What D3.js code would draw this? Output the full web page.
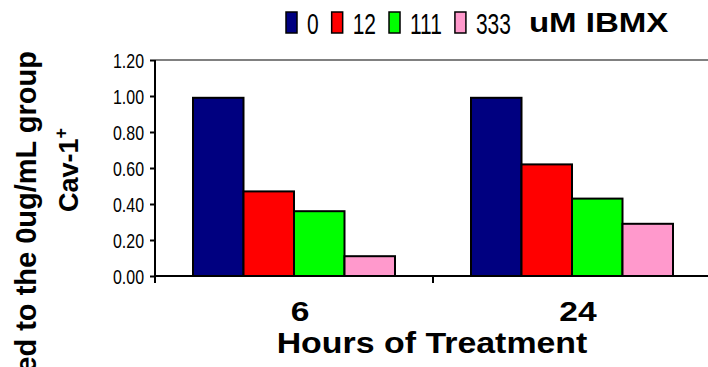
<!DOCTYPE html>
<html>
<head>
<meta charset="utf-8">
<script src="https://cdn.jsdelivr.net/npm/d3@7"></script>
<style>
  html, body { margin: 0; padding: 0; background: #fff; }
  svg { display: block; font-family: "Liberation Sans", Arial, sans-serif; }
</style>
</head>
<body>
<svg id="chart" width="708" height="367"></svg>
<script>
// Cav-1+ cells relative to the untreated (0 uM) group, by IBMX dose and time
const hours = ["6", "24"];
const doses = ["0", "12", "111", "333"];
const doseColors = ["#000080", "#ff0000", "#00ff00", "#ff99cc"];
const at6h = [0.99, 0.47, 0.36, 0.11];
const at24h = [0.99, 0.62, 0.43, 0.29];
const yTicks = [0, 0.2, 0.4, 0.6, 0.8, 1.0, 1.2];

const values = [at6h, at24h];
const rows = hours.map((h, i) => ({ hour: h, vals: doses.map((d, j) => ({ dose: d, v: values[i][j] })) }));

const svg = d3.select("#chart");
const plot = { left: 155, right: 711, top: 60, bottom: 276 };

const x0 = d3.scaleBand().domain(hours).range([plot.left, plot.right]);
const x1 = d3.scaleBand().domain(doses).range([38, x0.bandwidth() - 38]);
const y = d3.scaleLinear().domain([0, 1.2]).range([plot.bottom, plot.top]);
const color = d3.scaleOrdinal().domain(doses).range(doseColors);

// text with a horizontal scale (condensed or widened face)
function scaled(sel, sx) {
  return sel.attr("transform", function () {
    const t = d3.select(this);
    return `translate(${t.attr("data-x")},${t.attr("data-y")}) scale(${sx},1)`;
  });
}

// plot-area border (top edge)
svg.append("line")
  .attr("x1", plot.left).attr("x2", plot.right)
  .attr("y1", plot.top).attr("y2", plot.top)
  .attr("stroke", "#808080").attr("stroke-width", 2);

// bars
const groups = svg.append("g").selectAll("g").data(rows).join("g")
  .attr("transform", d => `translate(${x0(d.hour)},0)`);
groups.selectAll("rect").data(d => d.vals).join("rect")
  .attr("x", d => x1(d.dose))
  .attr("width", x1.bandwidth())
  .attr("y", d => y(d.v))
  .attr("height", d => y(0) - y(d.v))
  .attr("fill", d => color(d.dose))
  .attr("stroke", "#000").attr("stroke-width", 2);

// y axis
const yAxis = svg.append("g")
  .attr("transform", `translate(${plot.left},0)`)
  .call(d3.axisLeft(y).tickValues(yTicks).tickSize(5).tickFormat(d3.format(".2f")));
yAxis.select(".domain").attr("stroke", "#000").attr("stroke-width", 2).attr("d", `M0,${plot.top}V${plot.bottom}`);
yAxis.selectAll(".tick line").attr("stroke", "#000").attr("stroke-width", 2);
yAxis.selectAll(".tick text")
  .attr("font-size", 21).attr("fill", "#000")
  .attr("data-x", -11).attr("data-y", 0).attr("x", null).attr("dy", "0.36em")
  .call(scaled, 0.76);

// x axis (ticks between categories)
const xAxis = svg.append("g").attr("transform", `translate(0,${plot.bottom})`);
xAxis.append("line").attr("x1", plot.left).attr("x2", plot.right)
  .attr("stroke", "#000").attr("stroke-width", 2);
const bounds = hours.map(h => x0(h)).concat([x0(hours[hours.length - 1]) + x0.bandwidth()]);
xAxis.selectAll("line.tk").data(bounds).join("line").attr("class", "tk")
  .attr("x1", d => d).attr("x2", d => d).attr("y1", 0).attr("y2", 7)
  .attr("stroke", "#000").attr("stroke-width", 2);

// category labels
svg.append("g").selectAll("text").data(hours).join("text")
  .attr("data-x", d => x0(d) + x0.bandwidth() / 2 + 6)
  .attr("data-y", 321)
  .attr("text-anchor", "middle")
  .attr("font-size", 28).attr("font-weight", "bold")
  .text(d => d)
  .call(scaled, 1.2);

// x axis title
svg.append("text")
  .attr("data-x", 432).attr("data-y", 353)
  .attr("text-anchor", "middle")
  .attr("font-size", 30).attr("font-weight", "bold")
  .text("Hours of Treatment")
  .call(scaled, 1.13);

// y axis title (two lines, rotated)
svg.append("text")
  .attr("transform", "translate(36,51) rotate(-90)")
  .attr("text-anchor", "end")
  .attr("font-size", 29).attr("font-weight", "bold")
  .text("Fold Change Normalized to the 0ug/mL group");
const t2 = svg.append("text")
  .attr("transform", "translate(78,170) rotate(-90)")
  .attr("text-anchor", "middle")
  .attr("font-size", 27).attr("font-weight", "bold");
t2.append("tspan").text("Cav-1");
t2.append("tspan").attr("font-size", 18).attr("dy", -11).text("+");

// legend
const legend = svg.append("g");
let lx = 286;
const sqW = 11, sqTop = 12, sqH = 21, legSx = 0.7;
doses.forEach(d => {
  legend.append("rect")
    .attr("x", lx).attr("y", sqTop).attr("width", sqW).attr("height", sqH)
    .attr("fill", color(d)).attr("stroke", "#000").attr("stroke-width", 1.5);
  const tx = lx + sqW + 10;
  const t = legend.append("text")
    .attr("data-x", tx).attr("data-y", 34)
    .attr("font-size", 30).attr("fill", "#000")
    .text(d)
    .call(scaled, legSx);
  lx = tx + t.node().getComputedTextLength() * legSx + 13;
});
legend.append("text")
  .attr("data-x", lx + 5).attr("data-y", 32)
  .attr("font-size", 28).attr("font-weight", "bold")
  .text("uM IBMX")
  .call(scaled, 1.18);
</script>
</body>
</html>
